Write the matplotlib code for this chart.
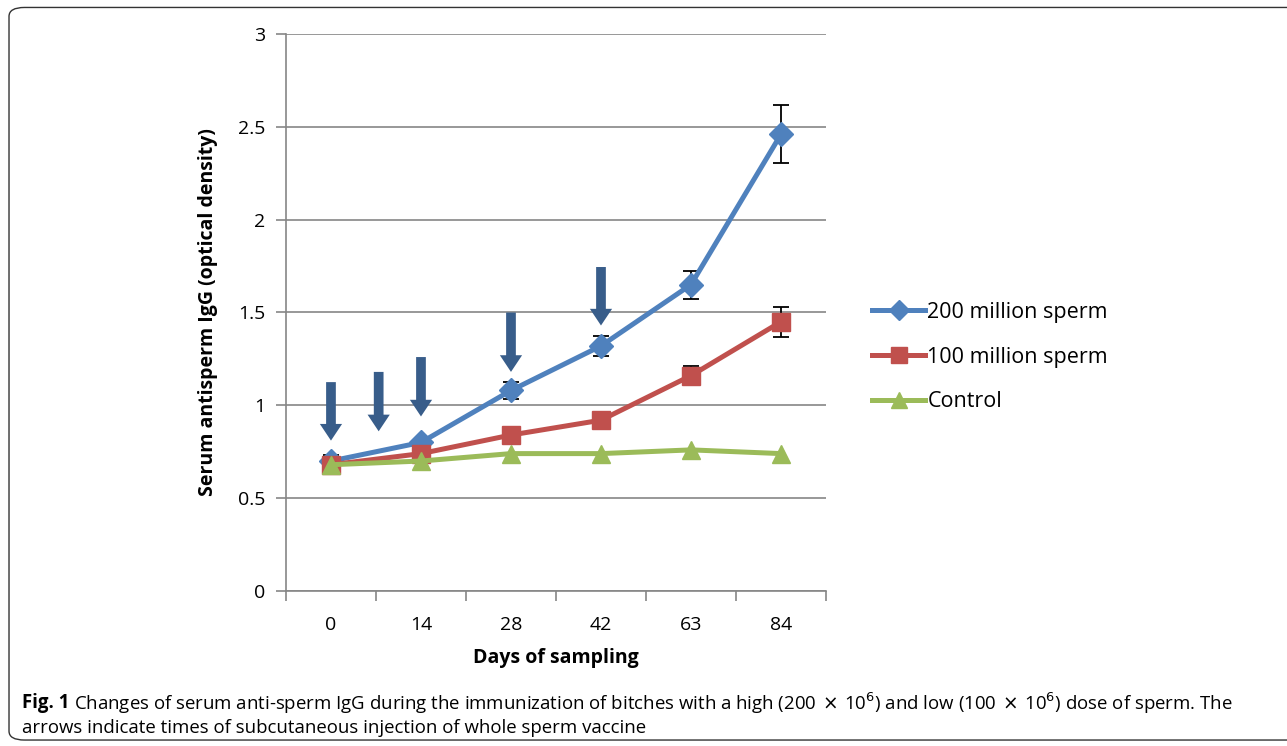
import matplotlib.pyplot as plt
from matplotlib.patches import FancyArrowPatch, FancyBboxPatch

plt.rcParams['font.family'] = ['Open Sans', 'DejaVu Sans']

days = ['0', '14', '28', '42', '63', '84']
high = [0.70, 0.80, 1.08, 1.32, 1.65, 2.46]
high_err = [0.03, 0.0, 0.045, 0.055, 0.075, 0.155]
low = [0.68, 0.74, 0.84, 0.92, 1.16, 1.45]
low_err = [0.0, 0.0, 0.0, 0.0, 0.05, 0.08]
control = [0.68, 0.70, 0.74, 0.74, 0.76, 0.74]

# injection arrows, x in category index units
arrow_x = [0, 0.53, 1, 2, 3]
arrow_top = [1.125, 1.18, 1.26, 1.50, 1.745]
arrow_tip = [0.81, 0.86, 0.94, 1.18, 1.43]

blue = '#4f81bd'
red = '#c0504d'
green = '#9bbb59'
arrow_col = '#385d8a'
axis_col = '#868686'

fig = plt.figure(figsize=(12.87, 7.46), dpi=100)
ax = fig.add_axes([0.2222, 0.2078, 0.4196, 0.7466])

x = list(range(len(days)))
ax.errorbar(x, high, yerr=high_err, fmt='none', ecolor='black',
            elinewidth=1.3, capsize=6, capthick=1.3, zorder=2)
ax.errorbar(x, low, yerr=low_err, fmt='none', ecolor='black',
            elinewidth=1.3, capsize=6, capthick=1.3, zorder=2)
h1, = ax.plot(x, high, color=blue, lw=3.6, marker='D', ms=12,
              label='200 million sperm', zorder=3)
h2, = ax.plot(x, low, color=red, lw=3.6, marker='s', ms=13,
              label='100 million sperm', zorder=4)
h3, = ax.plot(x, control, color=green, lw=3.6, marker='^', ms=13,
              label='Control', zorder=5)

for ax_, top, tip in zip(arrow_x, arrow_top, arrow_tip):
    arr = FancyArrowPatch((ax_, top), (ax_, tip),
                          arrowstyle='simple,head_width=16,head_length=12,tail_width=7',
                          mutation_scale=1, shrinkA=0, shrinkB=0,
                          color=arrow_col, lw=0, zorder=6)
    ax.add_patch(arr)

ax.set_xlim(-0.5, len(days) - 0.5)
ax.set_ylim(0, 3)
ax.set_yticks([0, 0.5, 1, 1.5, 2, 2.5, 3])
ax.set_yticklabels(['0', '0.5', '1', '1.5', '2', '2.5', '3'])
ax.yaxis.grid(True, color=axis_col, lw=1.2)
ax.set_axisbelow(True)

ax.set_xticks([i - 0.5 for i in range(len(days) + 1)])
ax.set_xticklabels([])
ax.set_xticks(x, minor=True)
ax.set_xticklabels(days, minor=True)
ax.tick_params(axis='x', which='major', length=7, color=axis_col, width=1.2)
ax.tick_params(axis='x', which='minor', length=0, pad=18, labelsize=14)
ax.tick_params(axis='y', length=7, color=axis_col, width=1.2, labelsize=14, pad=8)

for s in ['top', 'right']:
    ax.spines[s].set_visible(False)
for s in ['left', 'bottom']:
    ax.spines[s].set_color(axis_col)
    ax.spines[s].set_linewidth(1.2)

ax.set_xlabel('Days of sampling', fontsize=14, fontweight='bold', labelpad=10)
ax.set_ylabel('Serum antisperm IgG (optical density)', fontsize=14,
              fontweight='bold', labelpad=14)

leg = ax.legend(handles=[h1, h2, h3], loc='center left', bbox_to_anchor=(1.05, 0.42),
                frameon=False, fontsize=15.5, handlelength=2.45, handletextpad=0.1,
                labelspacing=1.1, markerscale=0.85)

border = FancyBboxPatch((0.007, 0.008), 1.1, 0.982, boxstyle='round,pad=0,rounding_size=0.012',
                        transform=fig.transFigure, fill=False, ec='#333333', lw=1.0)
fig.patches.append(border)

cap_size = 13.4
t0 = fig.text(0.017, 0.057, 'Fig. 1', fontsize=cap_size, fontweight='bold', va='center', ha='left')
fig.canvas.draw()
bb = t0.get_window_extent().transformed(fig.transFigure.inverted())
fig.text(bb.x1 + 0.004, 0.057,
         r'Changes of serum anti-sperm IgG during the immunization of bitches '
         r'with a high (200$\,\times\,$10$^6$) and low (100$\,\times\,$10$^6$) dose of sperm. The',
         fontsize=cap_size, va='center', ha='left')
fig.text(0.017, 0.024, 'arrows indicate times of subcutaneous injection of whole sperm vaccine',
         fontsize=cap_size, va='center', ha='left')

fig.savefig('out.png', dpi=100)
